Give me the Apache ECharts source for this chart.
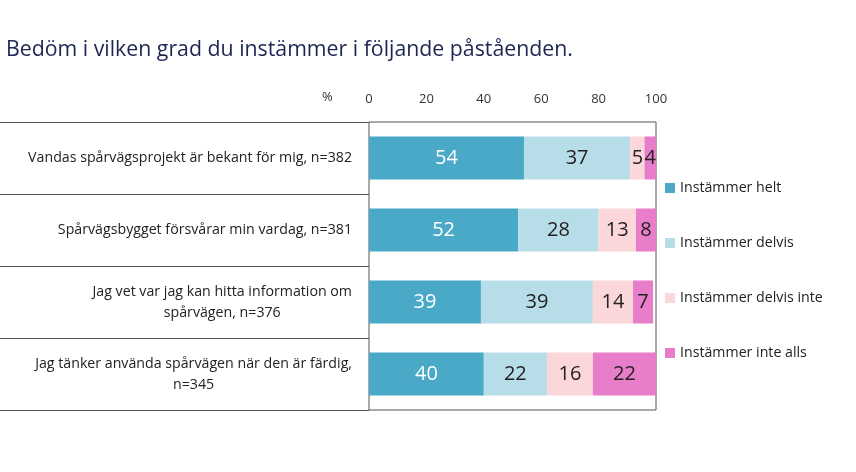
<!DOCTYPE html>
<html>
<head>
<meta charset="utf-8">
<script src="https://cdn.jsdelivr.net/npm/echarts@6/dist/echarts.min.js"></script>
<style>
  html, body { margin: 0; padding: 0; background: #fff; }
  #main { width: 856px; height: 472px; }
</style>
</head>
<body>
<div id="main"></div>
<script>
// data
const categories = [
  'Vandas spårvägsprojekt är bekant för mig, n=382',
  'Spårvägsbygget försvårar min vardag, n=381',
  'Jag vet var jag kan hitta information om\nspårvägen, n=376',
  'Jag tänker använda spårvägen när den är färdig,\nn=345'
];
const seriesNames = ['Instämmer helt', 'Instämmer delvis', 'Instämmer delvis inte', 'Instämmer inte alls'];
const helt = [54, 52, 39, 40];
const delvis = [37, 28, 39, 22];
const delvisInte = [5, 13, 14, 16];
const inteAlls = [4, 8, 7, 22];
const xTicks = [0, 20, 40, 60, 80, 100];

const colors = ['#49a9c6', '#b6dde8', '#fcd7d9', '#e87dc9'];
const font = 'Open Sans';

const values = [helt, delvis, delvisInte, inteAlls];
const series = seriesNames.map((name, i) => ({
  name,
  type: 'bar',
  stack: 'total',
  barWidth: 43,
  data: values[i],
  itemStyle: { color: colors[i] },
  label: {
    show: true,
    position: 'inside',
    fontSize: 20,
    fontFamily: font,
    color: i === 0 ? '#fff' : '#222'
  }
}));

const chart = echarts.init(document.getElementById('main'));
chart.setOption({
  animation: false,
  textStyle: { fontFamily: font },
  title: {
    text: 'Bedöm i vilken grad du instämmer i följande påståenden.',
    left: 1,
    top: 34,
    textStyle: { fontSize: 21.3, fontWeight: 'normal', color: '#1d2552', fontFamily: font }
  },
  legend: {
    orient: 'vertical',
    left: 660,
    top: 176,
    icon: 'rect',
    itemWidth: 10,
    itemHeight: 10,
    itemGap: 41,
    textStyle: { fontSize: 14.2, color: '#222', fontFamily: font },
    data: seriesNames
  },
  grid: {
    left: 369, right: 200, top: 122, bottom: 62,
    show: true, borderColor: '#555', borderWidth: 1
  },
  graphic: [{
    type: 'text',
    left: 322,
    top: 91,
    style: { text: '%', fontSize: 13, fill: '#333', fontFamily: font }
  }],
  xAxis: {
    type: 'value',
    position: 'top',
    min: xTicks[0],
    max: xTicks[xTicks.length - 1],
    interval: 20,
    axisLine: { show: false },
    axisTick: { show: false },
    splitLine: { show: false },
    axisLabel: { fontSize: 13, color: '#333', margin: 16 }
  },
  yAxis: {
    type: 'category',
    inverse: true,
    data: categories,
    axisLine: { show: false },
    axisTick: { show: true, length: 369, lineStyle: { color: '#555' } },
    axisLabel: {
      margin: 17,
      color: '#222',
      formatter: v => v.split('\n').map(s => '{c|' + s + '}').join('\n'),
      rich: { c: { align: 'center', fontSize: 14.2, color: '#222', lineHeight: 21, fontFamily: font } }
    }
  },
  series
});
</script>
</body>
</html>
